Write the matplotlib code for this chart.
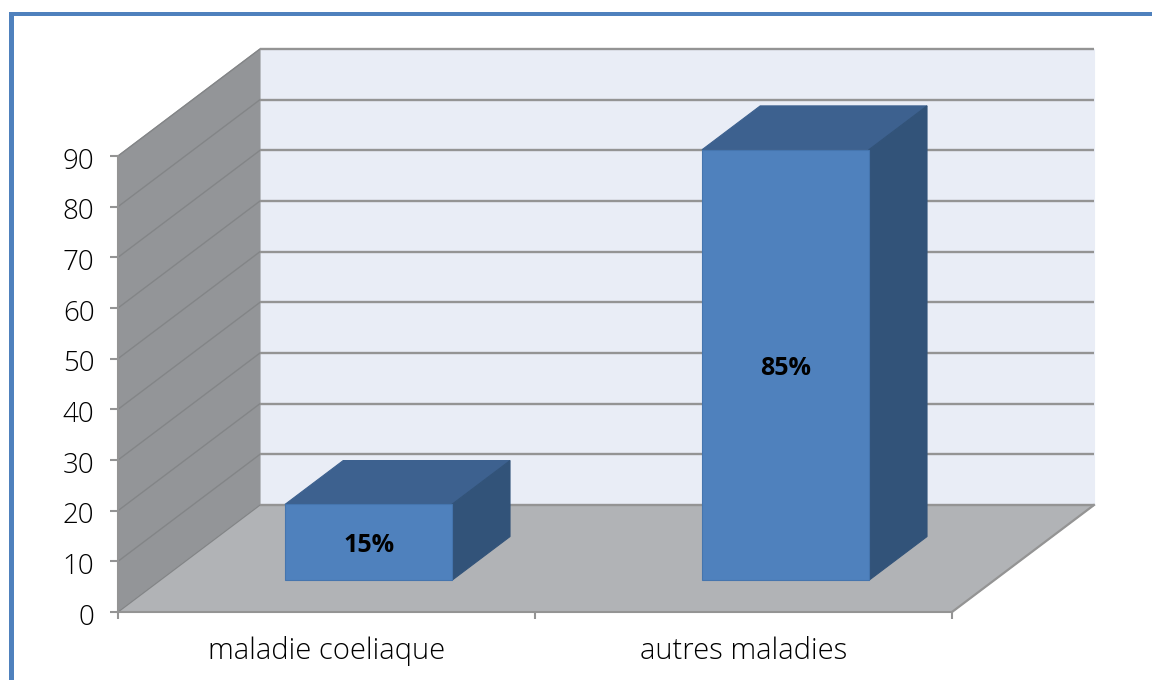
import matplotlib
matplotlib.use("Agg")
import matplotlib.pyplot as plt
from matplotlib.patches import Polygon, Rectangle
from matplotlib.transforms import ScaledTranslation

categories = ["maladie coeliaque", "autres maladies"]
values = [15, 85]
y_ticks = [0, 10, 20, 30, 40, 50, 60, 70, 80, 90]

W, H = 1152, 680
Y_MAX = 90

# shear of the 3d box, in axis units
DEPTH_X = 142 / 417
DEPTH_Y = 107 / (456 / Y_MAX)
BAR_WIDTH = 0.40
BAR_DEPTH_START = 0.295
BAR_DEPTH_END = 0.705

WALL = "#E9EDF6"
SIDE = "#939598"
FLOOR = "#B1B3B6"
GRID = "#949494"
GRID_SIDE = "#838587"
BAR_FRONT = "#4F81BD"
BAR_TOP = "#3D618F"
BAR_SIDE = "#325379"
FRAME = "#4F81BD"

plt.rcParams["font.family"] = ["Open Sans", "DejaVu Sans"]

fig = plt.figure(figsize=(W / 100, H / 100), dpi=100)
ax = fig.add_axes([118 / W, 1 - 612 / H, 834 / W, 456 / H])
ax.set_xlim(0, len(categories))
ax.set_ylim(0, Y_MAX)
ax.patch.set_visible(False)


def proj(x, v, d):
    return (x + d * DEPTH_X, v + d * DEPTH_Y)


def face(points, color, edge=None, z=1):
    ax.add_patch(Polygon([proj(*p) for p in points], closed=True, facecolor=color,
                         edgecolor=edge if edge else color, lw=0.8, clip_on=False, zorder=z))


n = len(categories)

# walls and floor
face([(0, 0, 1), (n, 0, 1), (n, Y_MAX, 1), (0, Y_MAX, 1)], WALL)
face([(0, 0, 0), (0, 0, 1), (0, Y_MAX, 1), (0, Y_MAX, 0)], SIDE)
face([(0, 0, 0), (n, 0, 0), (n, 0, 1), (0, 0, 1)], FLOOR)

# gridlines run along the side wall and then the back wall
for t in y_ticks:
    a, b, c = proj(0, t, 0), proj(0, t, 1), proj(n, t, 1)
    ax.plot([a[0], b[0]], [a[1], b[1]], color=GRID_SIDE, lw=1.0, clip_on=False, zorder=2)
    ax.plot([b[0], c[0]], [b[1], c[1]], color=GRID, lw=1.7, clip_on=False, zorder=2,
            solid_capstyle="butt")

# floor edge on the right
a, b = proj(n, 0, 0), proj(n, 0, 1)
ax.plot([a[0], b[0]], [a[1], b[1]], color=GRID, lw=1.6, clip_on=False, zorder=2)

# labels sit a little under the middle of the front face
label_shift = ScaledTranslation(0.5 / 72, -2.5 / 72, fig.dpi_scale_trans)

# bars
for i, v in enumerate(values):
    x0 = i + (1 - BAR_WIDTH) / 2
    x1 = x0 + BAR_WIDTH
    d0, d1 = BAR_DEPTH_START, BAR_DEPTH_END
    face([(x0, v, d0), (x1, v, d0), (x1, v, d1), (x0, v, d1)], BAR_TOP, z=3)
    face([(x1, 0, d0), (x1, 0, d1), (x1, v, d1), (x1, v, d0)], BAR_SIDE, z=3)
    face([(x0, 0, d0), (x1, 0, d0), (x1, v, d0), (x0, v, d0)], BAR_FRONT, edge="#4575AE", z=4)
    cx, cy = proj((x0 + x1) / 2, v / 2, d0)
    ax.text(cx, cy, f"{v}%", ha="center", va="center", fontsize=18, fontweight="bold",
            color="black", zorder=5, transform=ax.transData + label_shift)

# axes
for s in ["top", "right"]:
    ax.spines[s].set_visible(False)
for s in ["left", "bottom"]:
    ax.spines[s].set_color(GRID)
    ax.spines[s].set_linewidth(1.5)
    ax.spines[s].set_zorder(6)
ax.set_yticks(y_ticks)
ax.set_xticks(range(n + 1))
ax.set_xticklabels([])
ax.set_xticks([i + 0.5 for i in range(n)], minor=True)
ax.set_xticklabels(categories, minor=True)
ax.tick_params(axis="y", length=6, width=1.5, color=GRID, labelsize=20, pad=11, labelcolor="black")
ax.tick_params(axis="x", which="major", length=5, width=1.5, color=GRID)
ax.tick_params(axis="x", which="minor", length=0, labelsize=21, pad=16, labelcolor="black")
for lab in ax.get_yticklabels() + ax.get_xticklabels(minor=True):
    lab.set_fontweight("light")
    lab.set_transform(lab.get_transform() + ScaledTranslation(0, -1.5 / 72, fig.dpi_scale_trans))

# blue frame, open on the right and at the bottom
fig.add_artist(Rectangle((8.5 / W, 0), 5.5 / W, 1 - 12 / H, transform=fig.transFigure,
                         facecolor=FRAME, edgecolor="none"))
fig.add_artist(Rectangle((8.5 / W, 1 - 15.5 / H), 1 - 8.5 / W, 3.5 / H, transform=fig.transFigure,
                         facecolor=FRAME, edgecolor="none"))

fig.savefig("out.png", dpi=100, facecolor="white")
